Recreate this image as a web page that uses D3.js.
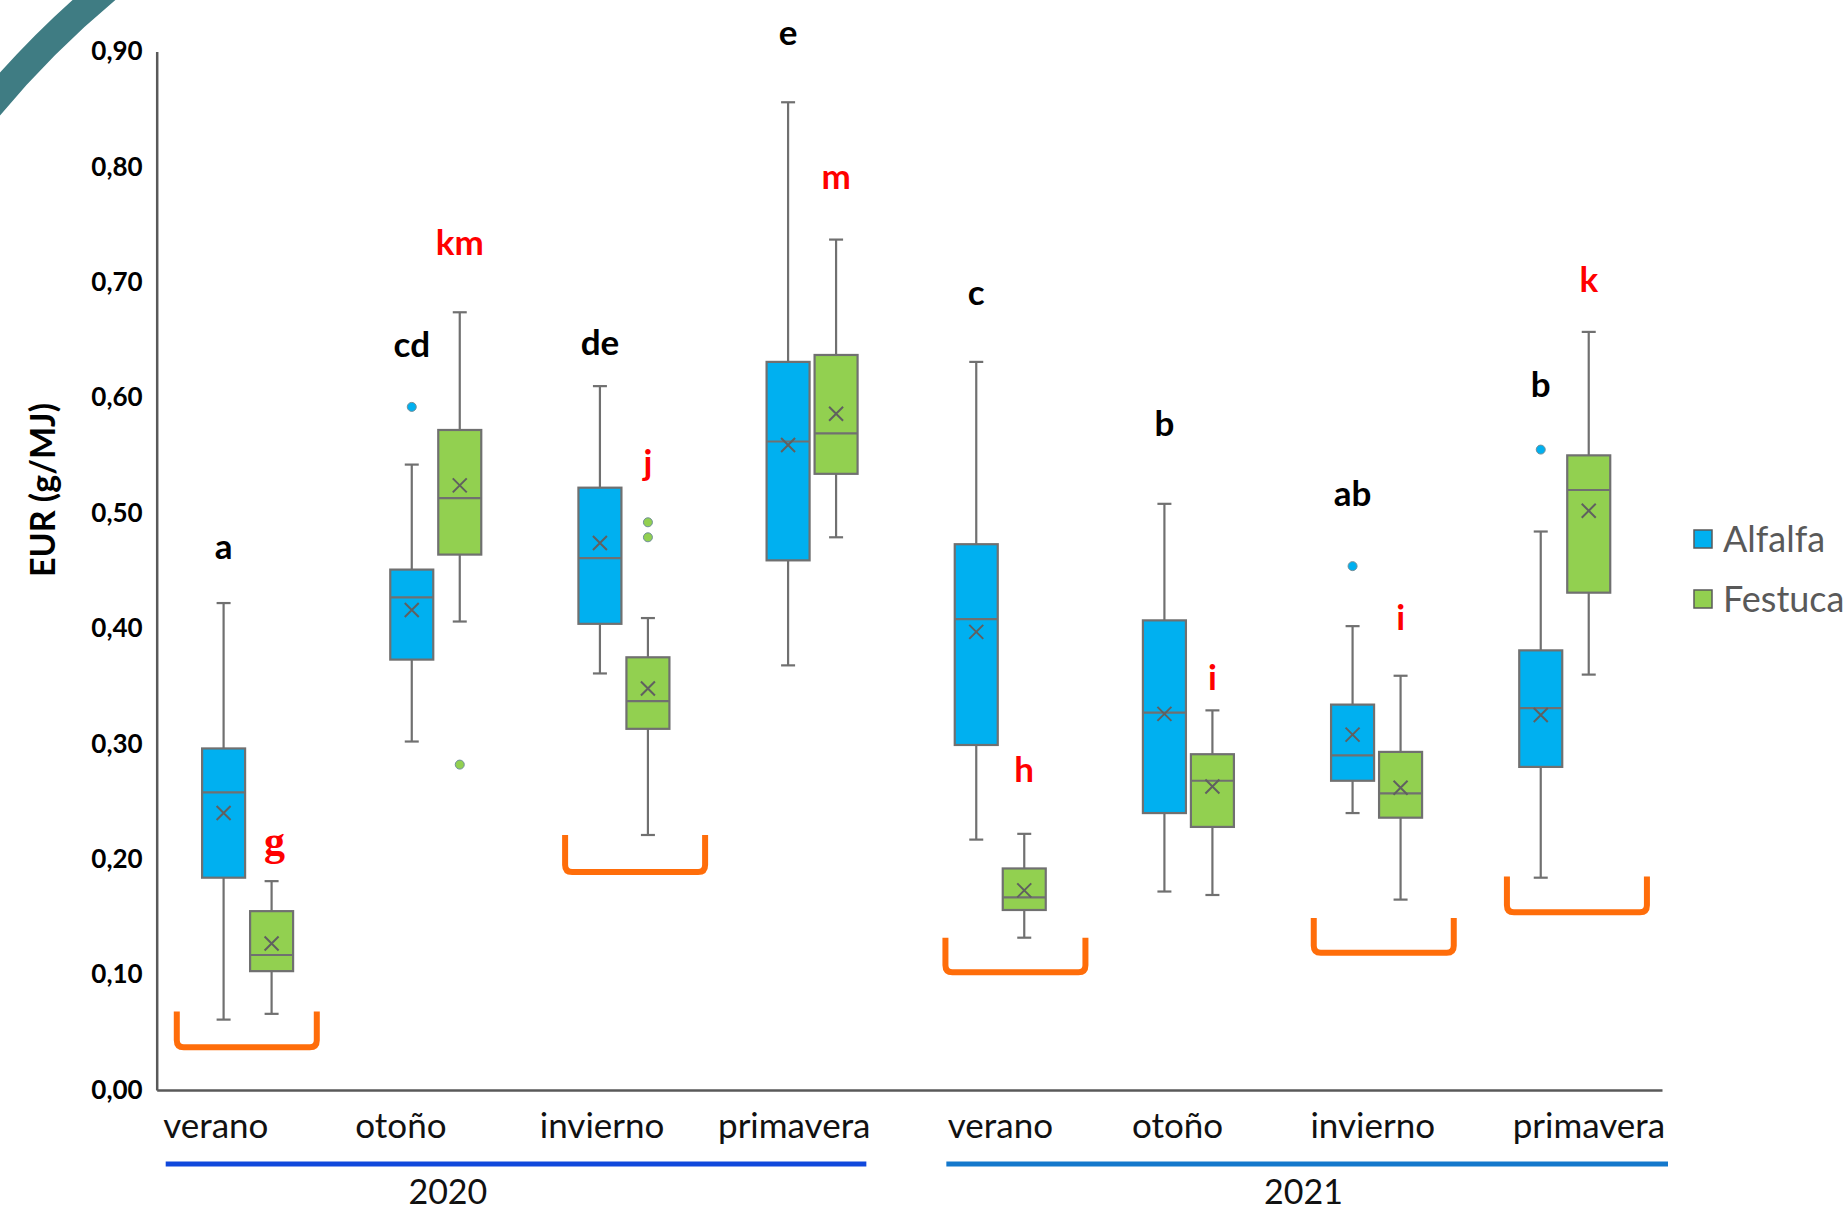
<!DOCTYPE html>
<html>
<head>
<meta charset="utf-8">
<script src="https://cdn.jsdelivr.net/npm/d3@7/dist/d3.min.js"></script>
<style>
  body { margin: 0; background: #fff; }
  svg { display: block; font-family: Lato, "Open Sans", sans-serif; }
</style>
</head>
<body>
<div id="svg-container"></div>
<script>
// estaciones (eje x) y años
var seasons = ["verano", "otoño", "invierno", "primavera", "verano", "otoño", "invierno", "primavera"];
var years = ["2020", "2021"];
var series = ["Alfalfa", "Festuca"];

// Alfalfa: min, Q1, mediana, Q3, max, media, atípicos
var alfMin  = [0.061, 0.302, 0.361, 0.368, 0.217, 0.172, 0.240, 0.184];
var alfQ1   = [0.184, 0.373, 0.404, 0.459, 0.299, 0.240, 0.268, 0.280];
var alfMed  = [0.258, 0.427, 0.461, 0.562, 0.408, 0.327, 0.290, 0.331];
var alfQ3   = [0.296, 0.451, 0.522, 0.631, 0.473, 0.407, 0.334, 0.381];
var alfMax  = [0.422, 0.542, 0.610, 0.856, 0.631, 0.508, 0.402, 0.484];
var alfMean = [0.240, 0.416, 0.474, 0.559, 0.397, 0.326, 0.308, 0.325];
var alfOut  = [[], [0.592], [], [], [], [], [0.454], [0.555]];

// Festuca
var fesMin  = [0.066, 0.406, 0.221, 0.479, 0.132, 0.169, 0.165, 0.360];
var fesQ1   = [0.103, 0.464, 0.313, 0.534, 0.156, 0.228, 0.236, 0.431];
var fesMed  = [0.117, 0.513, 0.337, 0.569, 0.167, 0.268, 0.257, 0.520];
var fesQ3   = [0.155, 0.572, 0.375, 0.637, 0.192, 0.291, 0.293, 0.550];
var fesMax  = [0.181, 0.674, 0.409, 0.737, 0.222, 0.329, 0.359, 0.657];
var fesMean = [0.127, 0.524, 0.348, 0.586, 0.173, 0.263, 0.262, 0.502];
var fesOut  = [[], [0.282], [0.492, 0.479], [], [], [], [], []];

// letras de significancia
var alfLetters  = ["a", "cd", "de", "e", "c", "b", "ab", "b"];
var alfLetterAt = [0.460, 0.635, 0.637, 0.906, 0.680, 0.567, 0.506, 0.601];
var fesLetters  = ["g", "km", "j", "m", "h", "i", "i", "k"];
var fesLetterAt = [0.204, 0.724, 0.533, 0.781, 0.267, 0.347, 0.399, 0.692];

// corchetes naranjas (estación, valor superior, valor inferior)
var bracketSeason = [0, 2, 4, 6, 7];
var bracketTop    = [0.068, 0.221, 0.132, 0.149, 0.185];
var bracketBottom = [0.037, 0.189, 0.102, 0.119, 0.154];

var yTicks = [0, 0.1, 0.2, 0.3, 0.4, 0.5, 0.6, 0.7, 0.8, 0.9];

// ---- layout ----
var width = 1845, height = 1210;
var colors = { Alfalfa: "#00b0f0", Festuca: "#92d050" };
var grey = "#707070";
var labelShift = [-35, -38, -25, -21, -3, -14, -7, 21];
var bracketShift = [-4, 8, 12, 4, 9];

var svg = d3.select("#svg-container").append("svg")
    .attr("width", width)
    .attr("height", height);

svg.append("rect").attr("width", width).attr("height", height).attr("fill", "#fff");

// arco decorativo (esquina superior izquierda)
var arcPath = d3.path();
arcPath.arc(700, 700, 926, -2.50, -2.21);
svg.append("path")
    .attr("d", arcPath.toString())
    .attr("fill", "none")
    .attr("stroke", "#3f7c83")
    .attr("stroke-width", 28);

var x0 = d3.scaleBand().domain(d3.range(seasons.length)).range([156.7, 1662]);
var x1 = d3.scaleBand().domain(series).range([45.4, 136.4]).paddingInner(0.104);
var y = d3.scaleLinear().domain([0, 0.9]).range([1090, 51.5]);

var locale = d3.formatLocale({ decimal: ",", thousands: ".", grouping: [3], currency: ["", "€"] });
var fmt = locale.format(".2f");

// eje y
var yAxis = svg.append("g")
    .attr("transform", "translate(" + x0.range()[0] + ",0)")
    .call(d3.axisLeft(y).tickValues(yTicks).tickSize(0).tickSizeOuter(0).tickPadding(14).tickFormat(fmt));
yAxis.select(".domain").attr("stroke", "#595959").attr("stroke-width", 2.5);
yAxis.selectAll("text")
    .attr("fill", "#000")
    .style("font-size", "26px")
    .style("font-weight", "bold")
    .style("font-family", "Lato, sans-serif");

// eje x
var xAxis = svg.append("g")
    .attr("transform", "translate(0," + y(0) + ")")
    .call(d3.axisBottom(x0).tickSize(0).tickSizeOuter(0).tickFormat(""));
xAxis.select(".domain").attr("stroke", "#595959").attr("stroke-width", 2.5);

svg.selectAll(".season")
    .data(seasons)
  .enter().append("text")
    .attr("class", "season")
    .attr("x", function(d, i) { return x0(i) + x0.bandwidth() / 2 + labelShift[i]; })
    .attr("y", 1138)
    .attr("text-anchor", "middle")
    .style("font-size", "35px")
    .attr("fill", "#111")
    .text(function(d) { return d; });

// líneas de año
var yearStart = [x0(0) + 9, x0(4) + 37];
var yearEnd = [x0(3) + x0.bandwidth() - 43, x0(7) + x0.bandwidth() + 6];
var yearColors = ["#1048dc", "#1478cc"];
var yearText = [x0(1) + 103, x0(5) + 206];
years.forEach(function(yr, k) {
  svg.append("line")
      .attr("x1", yearStart[k]).attr("x2", yearEnd[k])
      .attr("y1", 1164).attr("y2", 1164)
      .attr("stroke", yearColors[k])
      .attr("stroke-width", 5);
  svg.append("text")
      .attr("x", yearText[k])
      .attr("y", 1204)
      .attr("text-anchor", "middle")
      .style("font-size", "34px")
      .attr("fill", "#111")
      .text(yr);
});

// título eje y
svg.append("text")
    .attr("transform", "translate(55,490) rotate(-90)")
    .attr("text-anchor", "middle")
    .style("font-size", "34px")
    .style("font-weight", "bold")
    .text("EUR (g/MJ)");

// corchetes
var bracket = svg.append("g");
bracketSeason.forEach(function(s, k) {
  var cx = x0(s) + x0.bandwidth() / 2 + bracketShift[k];
  var xa = cx - 70, xb = cx + 70;
  var t = y(bracketTop[k]), b = y(bracketBottom[k]), r = 7;
  var p = d3.path();
  p.moveTo(xa, t);
  p.lineTo(xa, b - r);
  p.quadraticCurveTo(xa, b, xa + r, b);
  p.lineTo(xb - r, b);
  p.quadraticCurveTo(xb, b, xb, b - r);
  p.lineTo(xb, t);
  bracket.append("path")
      .attr("d", p.toString())
      .attr("fill", "none")
      .attr("stroke", "#ff6d0a")
      .attr("stroke-width", 6)
      .attr("stroke-linejoin", "round");
});

// cajas
var stats = {
  Alfalfa: { min: alfMin, q1: alfQ1, med: alfMed, q3: alfQ3, max: alfMax, mean: alfMean, out: alfOut },
  Festuca: { min: fesMin, q1: fesQ1, med: fesMed, q3: fesQ3, max: fesMax, mean: fesMean, out: fesOut }
};

var bw = x1.bandwidth();
series.forEach(function(s) {
  var st = stats[s];
  var g = svg.append("g").attr("class", "series-" + s);
  seasons.forEach(function(season, i) {
    var cx = x0(i) + x1(s) + bw / 2;
    // bigotes
    g.append("line")
        .attr("x1", cx).attr("x2", cx)
        .attr("y1", y(st.max[i])).attr("y2", y(st.min[i]))
        .attr("stroke", grey).attr("stroke-width", 2.2);
    [st.max[i], st.min[i]].forEach(function(v) {
      g.append("line")
          .attr("x1", cx - 7).attr("x2", cx + 7)
          .attr("y1", y(v)).attr("y2", y(v))
          .attr("stroke", grey).attr("stroke-width", 2.2);
    });
    g.append("rect")
        .attr("x", cx - bw / 2)
        .attr("y", y(st.q3[i]))
        .attr("width", bw)
        .attr("height", y(st.q1[i]) - y(st.q3[i]))
        .attr("fill", colors[s])
        .attr("stroke", grey)
        .attr("stroke-width", 2.2);
    g.append("line")
        .attr("x1", cx - bw / 2).attr("x2", cx + bw / 2)
        .attr("y1", y(st.med[i])).attr("y2", y(st.med[i]))
        .attr("stroke", grey).attr("stroke-width", 2.2);
    var my = y(st.mean[i]);
    g.append("path")
        .attr("d", "M" + (cx - 7) + "," + (my - 7) + "L" + (cx + 7) + "," + (my + 7) +
                   "M" + (cx - 7) + "," + (my + 7) + "L" + (cx + 7) + "," + (my - 7))
        .attr("stroke", "#606060").attr("stroke-width", 2);
    st.out[i].forEach(function(v) {
      g.append("circle")
          .attr("cx", cx).attr("cy", y(v)).attr("r", 4.5)
          .attr("fill", colors[s])
          .attr("stroke", "#6f8f9a").attr("stroke-width", 1);
    });
  });
});

// letras
function drawLetters(letters, at, s, color) {
  svg.selectAll(".letter-" + s)
      .data(letters)
    .enter().append("text")
      .attr("class", "letter-" + s)
      .attr("x", function(d, i) { return x0(i) + x1(s) + bw / 2 + (d === "g" ? 3 : 0); })
      .attr("y", function(d, i) { return y(at[i]); })
      .attr("text-anchor", "middle")
      .attr("fill", color)
      .style("font-weight", "bold")
      .style("font-size", function(d) { return d === "g" ? "42px" : "35px"; })
      .style("font-family", function(d) { return d === "g" ? "'Liberation Serif', serif" : "Lato, sans-serif"; })
      .text(function(d) { return d; });
}
drawLetters(alfLetters, alfLetterAt, "Alfalfa", "#000");
drawLetters(fesLetters, fesLetterAt, "Festuca", "#ff0000");

// leyenda
var legend = svg.selectAll(".legend")
    .data(series)
  .enter().append("g")
    .attr("class", "legend")
    .attr("transform", function(d, i) { return "translate(1694," + (530 + i * 60) + ")"; });
legend.append("rect")
    .attr("width", 18).attr("height", 18)
    .attr("fill", function(d) { return colors[d]; })
    .attr("stroke", "#595959").attr("stroke-width", 1.5);
legend.append("text")
    .attr("x", 29).attr("y", 22)
    .attr("fill", "#595959")
    .style("font-size", "36px")
    .text(function(d) { return d; });
</script>
</body>
</html>
